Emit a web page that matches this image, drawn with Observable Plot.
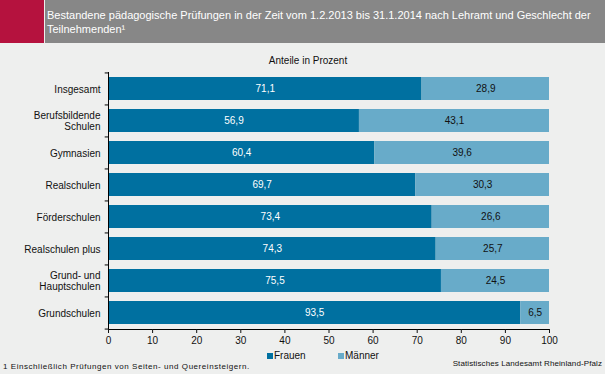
<!DOCTYPE html>
<html>
<head>
<meta charset="utf-8">
<script src="https://cdn.jsdelivr.net/npm/d3@7"></script>
<script src="https://cdn.jsdelivr.net/npm/@observablehq/plot@0.6"></script>
<style>
  html, body { margin: 0; padding: 0; background: #eeefee; }
  #root { position: relative; width: 605px; height: 374px; background: #eeefee; overflow: hidden; font-family: "Liberation Sans", Arial, sans-serif; }
  .abs { position: absolute; }
  #red { left: 0; top: 0; width: 44px; height: 43px; background: #b5123e; }
  #head { left: 45px; top: 0; width: 560px; height: 43px; background: #878787; }
  #title { left: 47px; top: 8px; width: 555px; color: #fff; font-size: 11px; line-height: 14px; }
  #sub { left: 308px; top: 55px; transform: translateX(-50%); font-size: 10px; color: #111; white-space: nowrap; }
  #chart { left: 0; top: 45px; }
  .leg { top: 350px; font-size: 10px; color: #111; display: flex; align-items: center; white-space: nowrap; }
  .sw { width: 6px; height: 6px; margin-right: 1px; }
  #foot { left: 3px; top: 362px; font-size: 8px; color: #111; letter-spacing: 0.55px; white-space: nowrap; }
  #src { right: 3px; top: 359px; font-size: 8px; color: #111; letter-spacing: 0.1px; white-space: nowrap; }
</style>
</head>
<body>
<div id="root">
  <div class="abs" id="red"></div>
  <div class="abs" id="head"></div>
  <div class="abs" id="title">Bestandene pädagogische Prüfungen in der Zeit vom 1.2.2013 bis 31.1.2014 nach Lehramt und Geschlecht der Teilnehmenden¹</div>
  <div class="abs" id="sub">Anteile in Prozent</div>
  <div class="abs" id="chart"></div>
  <div class="abs leg" style="left:267px"><span class="sw" style="background:#0070a0"></span>Frauen</div>
  <div class="abs leg" style="left:338px"><span class="sw" style="background:#68abc9"></span>Männer</div>
  <div class="abs" id="foot">1 Einschließlich Prüfungen von Seiten- und Quereinsteigern.</div>
  <div class="abs" id="src">Statistisches Landesamt Rheinland-Pfalz</div>
</div>
<script>
const categories = ["Insgesamt", "Berufsbildende Schulen", "Gymnasien", "Realschulen", "Förderschulen", "Realschulen plus", "Grund- und Hauptschulen", "Grundschulen"];
const categoryLabels = ["Insgesamt", "Berufsbildende\nSchulen", "Gymnasien", "Realschulen", "Förderschulen", "Realschulen plus", "Grund- und\nHauptschulen", "Grundschulen"];
const frauen = [71.1, 56.9, 60.4, 69.7, 73.4, 74.3, 75.5, 93.5];
const maenner = [28.9, 43.1, 39.6, 30.3, 26.6, 25.7, 24.5, 6.5];
const series = ["Frauen", "Männer"];
const xTicks = [0, 10, 20, 30, 40, 50, 60, 70, 80, 90, 100];

const data = [];
categories.forEach((c, i) => {
  data.push({cat: c, sex: series[0], value: frauen[i]});
  data.push({cat: c, sex: series[1], value: maenner[i]});
});
const labelOf = new Map(categories.map((c, i) => [c, categoryLabels[i]]));
const fmt = v => v.toFixed(1).replace(".", ",");

const step = 257 / 8;
const chart = Plot.plot({
  width: 605,
  height: 305,
  marginTop: 27,
  marginBottom: 21,
  marginLeft: 108,
  marginRight: 56,
  style: {background: "transparent", fontFamily: "Liberation Sans, Arial, sans-serif", fontSize: "10px", color: "#111"},
  x: {domain: [0, 100], ticks: xTicks},
  y: {domain: categories, paddingInner: 0.28, paddingOuter: 0.14},
  color: {domain: series, range: ["#0070a0", "#68abc9"]},
  marks: [
    Plot.barX(data, Plot.stackX({x: "value", y: "cat", fill: "sex", order: series})),
    Plot.text(data, Plot.stackX({x: "value", y: "cat", z: "sex", order: series, text: d => d.sex === "Frauen" ? fmt(d.value) : "", fill: "white", fontSize: 10})),
    Plot.text(data, Plot.stackX({x: "value", y: "cat", z: "sex", order: series, text: d => d.sex === "Männer" ? fmt(d.value) : "", fill: "#111", fontSize: 10})),
    Plot.ruleX([0], {stroke: "#000", strokeWidth: 1}),
    Plot.ruleY(categories, {y: d => d, x1: -0.75, x2: 0, dy: -step / 2, stroke: "#000", clip: false}),
    Plot.ruleY([categories[categories.length - 1]], {y: d => d, x1: -0.75, x2: 0, dy: step / 2, stroke: "#000", clip: false}),
    Plot.frame({anchor: "bottom", stroke: "#000"}),
    Plot.axisX({ticks: xTicks, tickSize: 4, tickPadding: 3, label: null, fontSize: 10, fill: "#111"}),
    Plot.axisY({tickSize: 0, tickPadding: 8, label: null, tickFormat: c => labelOf.get(c), fontSize: 10, fill: "#111", lineHeight: 1.15})
  ]
});
document.getElementById("chart").appendChild(chart);
</script>
</body>
</html>
